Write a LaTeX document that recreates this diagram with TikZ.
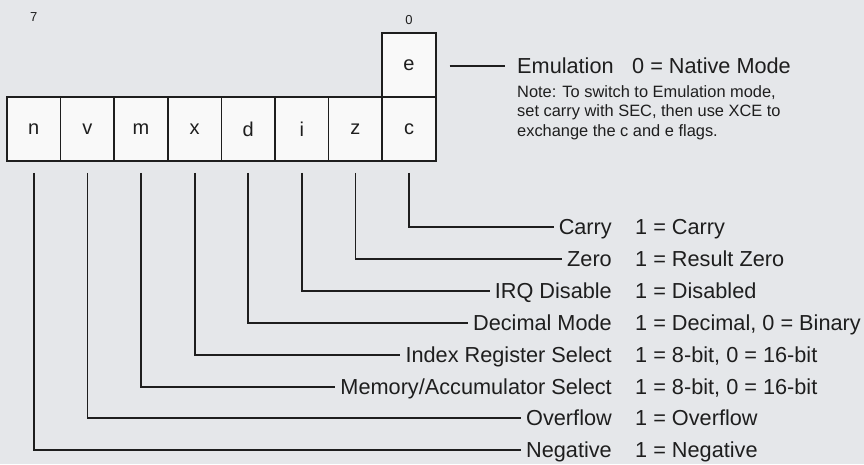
\documentclass[tikz,border=0pt]{standalone}
\usepackage{fontspec}
\setmainfont{Liberation Sans}
\definecolor{bg}{RGB}{229,231,234}
\definecolor{boxfill}{RGB}{249,249,249}
\definecolor{ink}{RGB}{30,30,30}
\begin{document}
\begin{tikzpicture}[x=1pt,y=-1pt,
  bitbox/.style={draw=ink, line width=1.6pt, fill=boxfill, minimum width=53.6pt, minimum height=64pt, inner sep=0pt, text=ink, font=\fontsize{20}{24}\selectfont},
  lab/.style={anchor=east, inner sep=5pt, text height=15.5pt, text depth=0pt, text=ink, font=\fontsize{21.7}{26}\selectfont},
  val/.style={anchor=west, inner sep=0pt, text height=15.5pt, text depth=0pt, text=ink, font=\fontsize{21.7}{26}\selectfont},
  conn/.style={draw=ink, line width=1.8pt},
  bitnum/.style={inner sep=0pt, text=ink, font=\fontsize{13}{15}\selectfont}
]
\fill[bg] (0,0) rectangle (864,464);
\useasboundingbox (0,0) rectangle (864,464);

% bit numbers
\node[bitnum] (b7) at (33.8,17) {7};
\node[bitnum] (b0) at (409,20) {0};

% register boxes
\node[bitbox] (n) at (33.8,129) {n};
\node[bitbox] (v) at (87.4,129) {v};
\node[bitbox] (m) at (141,129) {m};
\node[bitbox] (x) at (194.6,129) {x};
\node[bitbox] (d) at (248.2,129) {d};
\node[bitbox] (i) at (301.8,129) {i};
\node[bitbox] (z) at (355.4,129) {z};
\node[bitbox] (c) at (409,129) {c};
\node[bitbox] (e) at (409,65) {e};

% emulation
\node[val, anchor=west, inner xsep=12pt, inner ysep=0pt] (emu) at (505,66) {Emulation};
\node[val] (emuv) at (632,66) {0 = Native Mode};
\draw[conn] ([xshift=13pt]e.east |- emu.west) -- (emu.west);
\node[anchor=north west, inner sep=0pt, align=left, text=ink, font=\fontsize{16.4}{19.5}\selectfont] (note) at (517,85)
  {Note: To switch to Emulation mode,\\set carry with SEC, then use XCE to\\exchange the c and e flags.};

% flag labels
\node[lab] (lc) at (617,227) {Carry};
\node[lab] (lz) at (617,259) {Zero};
\node[lab] (li) at (617,291) {IRQ Disable};
\node[lab] (ld) at (617,323) {Decimal Mode};
\node[lab] (lx) at (617,355) {Index Register Select};
\node[lab] (lm) at (617,387) {Memory/Accumulator Select};
\node[lab] (lv) at (617,418) {Overflow};
\node[lab] (ln) at (617,450) {Negative};

\node[val] (vc) at (635,227) {1 = Carry};
\node[val] (vz) at (635,259) {1 = Result Zero};
\node[val] (vi) at (635,291) {1 = Disabled};
\node[val] (vd) at (635,323) {1 = Decimal, 0 = Binary};
\node[val] (vx) at (635,355) {1 = 8-bit, 0 = 16-bit};
\node[val] (vm) at (635,387) {1 = 8-bit, 0 = 16-bit};
\node[val] (vv) at (635,418) {1 = Overflow};
\node[val] (vn) at (635,450) {1 = Negative};

% connectors
\draw[conn] ([yshift=-11pt]c.south) |- (lc.west);
\draw[conn] ([yshift=-11pt]z.south) |- (lz.west);
\draw[conn] ([yshift=-11pt]i.south) |- (li.west);
\draw[conn] ([yshift=-11pt]d.south) |- (ld.west);
\draw[conn] ([yshift=-11pt]x.south) |- (lx.west);
\draw[conn] ([yshift=-11pt]m.south) |- (lm.west);
\draw[conn] ([yshift=-11pt]v.south) |- (lv.west);
\draw[conn] ([yshift=-11pt]n.south) |- (ln.west);
\end{tikzpicture}
\end{document}
